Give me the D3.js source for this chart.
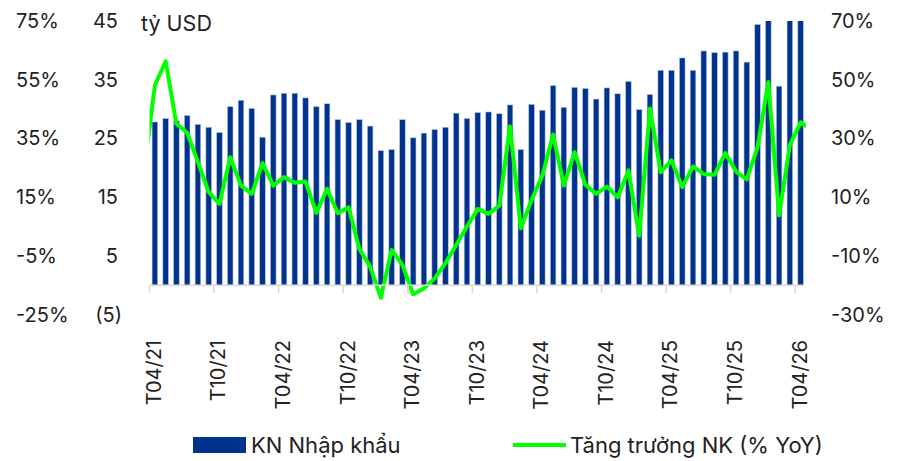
<!DOCTYPE html>
<html lang="vi">
<head>
  <meta charset="UTF-8">
  <title>KN Nhập khẩu</title>
  <script src="https://d3js.org/d3.v7.min.js"></script>
  <style>
    body { margin: 0; background: #fff; }
    text { font-family: Inter, Roboto, "Noto Sans", sans-serif; fill: #222; }
  </style>
</head>
<body>
<script>
  // months T04/21 .. T04/26
  const months = [
    "T04/21","T05/21","T06/21","T07/21","T08/21","T09/21","T10/21","T11/21","T12/21",
    "T01/22","T02/22","T03/22","T04/22","T05/22","T06/22","T07/22","T08/22","T09/22","T10/22","T11/22","T12/22",
    "T01/23","T02/23","T03/23","T04/23","T05/23","T06/23","T07/23","T08/23","T09/23","T10/23","T11/23","T12/23",
    "T01/24","T02/24","T03/24","T04/24","T05/24","T06/24","T07/24","T08/24","T09/24","T10/24","T11/24","T12/24",
    "T01/25","T02/25","T03/25","T04/25","T05/25","T06/25","T07/25","T08/25","T09/25","T10/25","T11/25","T12/25",
    "T01/26","T02/26","T03/26","T04/26"
  ];
  const tickLabels = ["T04/21","T10/21","T04/22","T10/22","T04/23","T10/23","T04/24","T10/24","T04/25","T10/25","T04/26"];

  // import value, bn USD
  const imports = [
    27.8, 28.4, 28.0, 28.9, 27.4, 26.9, 26.0, 30.4, 31.5,
    30.1, 25.2, 32.4, 32.7, 32.7, 31.9, 30.4, 30.9, 28.2, 27.7, 28.2, 27.1,
    22.9, 23.1, 28.2, 25.1, 25.9, 26.5, 26.9, 29.3, 28.4, 29.4, 29.5, 29.2,
    30.7, 23.1, 30.8, 29.8, 34.0, 30.3, 33.7, 33.5, 31.7, 33.6, 32.6, 34.7,
    29.9, 32.5, 36.6, 36.6, 38.7, 36.6, 39.9, 39.6, 39.7, 39.9, 38.0, 44.4,
    46.0, 33.9, 46.0, 46.5
  ];

  // YoY growth %, one month before and after the bar range (cut by the plot edge)
  const growthMonths = ["T03/21"].concat(months, ["T05/26"]);
  const growth = [
    19.0,
    48.1, 56.3, 35.0, 31.9, 21.9, 11.7, 7.7, 23.6, 13.9,
    11.1, 21.6, 13.9, 16.8, 14.9, 15.3, 4.6, 12.8, 4.5, 6.5, -7.7, -13.7,
    -24.3, -8.0, -13.1, -23.1, -21.1, -17.7, -12.5, -6.3, 0.0, 6.0, 4.3, 7.1,
    34.1, -0.6, 9.0, 17.3, 31.3, 13.9, 25.3, 14.2, 11.1, 13.6, 9.9, 19.1,
    -3.2, 40.2, 18.5, 22.5, 13.4, 20.4, 17.9, 17.6, 25.0, 18.7, 16.0, 27.0,
    49.2, 3.8, 27.7, 35.5,
    33.0
  ];

  const valueTicks = [-5, 5, 15, 25, 35, 45];
  const leftPctTicks = [-25, -5, 15, 35, 55, 75];
  const rightPctTicks = [-30, -10, 10, 30, 50, 70];

  const width = 905, height = 461;
  const plot = { left: 149.5, right: 806, top: 21, bottom: 314.5 };
  const fontSize = "20px";

  const svg = d3.select("body").append("svg")
    .attr("width", width)
    .attr("height", height);

  const x = d3.scaleBand()
    .domain(months)
    .range([plot.left, plot.right]);
  const step = x.step();
  const xIdx = d3.scaleLinear()
    .domain([0, months.length - 1])
    .range([plot.left + step / 2, plot.right - step / 2]);

  const y = d3.scaleLinear().domain([-5, 45]).range([plot.bottom, plot.top]);
  const yPctLeft = d3.scaleLinear().domain([-25, 75]).range([plot.bottom, plot.top]);
  const yPct = d3.scaleLinear().domain([-30, 70]).range([plot.bottom, plot.top]);

  svg.append("clipPath").attr("id", "clip")
    .append("rect")
    .attr("x", plot.left).attr("y", plot.top)
    .attr("width", plot.right - plot.left)
    .attr("height", plot.bottom - plot.top + 10);

  const g = svg.append("g").attr("clip-path", "url(#clip)");

  // bars
  g.selectAll("rect.bar")
    .data(imports)
    .enter().append("rect")
    .attr("class", "bar")
    .attr("x", (d, i) => xIdx(i) - 2.8)
    .attr("width", 5.6)
    .attr("y", d => y(d))
    .attr("height", d => y(0) - y(d))
    .attr("fill", "#00338d")
    .attr("stroke", "#b8c4de")
    .attr("stroke-width", 0.6);

  // category axis at zero
  const y0 = y(0);
  svg.append("line")
    .attr("x1", plot.left).attr("x2", plot.right - 2)
    .attr("y1", y0).attr("y2", y0)
    .attr("stroke", "#d9d9d9")
    .attr("stroke-width", 1.5);

  const tickIdx = tickLabels.map(t => months.indexOf(t));
  svg.selectAll("line.tick")
    .data(tickIdx)
    .enter().append("line")
    .attr("x1", i => xIdx(i) - step / 2)
    .attr("x2", i => xIdx(i) - step / 2)
    .attr("y1", y0).attr("y2", y0 + 8)
    .attr("stroke", "#d9d9d9")
    .attr("stroke-width", 1.5);

  svg.selectAll("text.xlab")
    .data(tickLabels)
    .enter().append("text")
    .attr("text-anchor", "end")
    .attr("dy", "0.35em")
    .attr("transform", d => "translate(" + (xIdx(months.indexOf(d)) - 1) + ",340) rotate(-90)")
    .style("font-size", fontSize)
    .text(d => d);

  // growth line
  const line = d3.line()
    .x((d, i) => xIdx(i - 1))
    .y(d => yPct(d));

  g.append("path")
    .datum(growth)
    .attr("fill", "none")
    .attr("stroke", "#00ff00")
    .attr("stroke-width", 4)
    .attr("stroke-linejoin", "round")
    .attr("d", line);

  // left axes (percent and value), right percent axis
  svg.selectAll("text.lp")
    .data(leftPctTicks)
    .enter().append("text")
    .attr("x", 16)
    .attr("y", d => yPctLeft(d))
    .attr("dy", "0.35em")
    .style("font-size", fontSize)
    .text(d => d + "%");

  svg.selectAll("text.lv")
    .data(valueTicks)
    .enter().append("text")
    .attr("x", d => d < 0 ? 122 : 118)
    .attr("y", d => y(d))
    .attr("dy", "0.35em")
    .attr("text-anchor", "end")
    .style("font-size", fontSize)
    .text(d => d < 0 ? "(" + (-d) + ")" : d);

  svg.selectAll("text.rp")
    .data(rightPctTicks)
    .enter().append("text")
    .attr("x", 831)
    .attr("y", d => yPct(d))
    .attr("dy", "0.35em")
    .style("font-size", fontSize)
    .text(d => d + "%");

  svg.append("text")
    .attr("x", 141).attr("y", 31)
    .style("font-size", "21.5px")
    .text("tỷ USD");

  // legend
  const legend = svg.append("g");
  legend.append("rect")
    .attr("x", 193).attr("y", 437)
    .attr("width", 53).attr("height", 16)
    .attr("fill", "#00338d");
  legend.append("text")
    .attr("x", 251).attr("y", 453)
    .style("font-size", "22px")
    .text("KN Nhập khẩu");
  legend.append("line")
    .attr("x1", 513).attr("x2", 566)
    .attr("y1", 445).attr("y2", 445)
    .attr("stroke", "#00ff00")
    .attr("stroke-width", 4);
  legend.append("text")
    .attr("x", 570).attr("y", 453)
    .style("font-size", "22px")
    .text("Tăng trưởng NK (% YoY)");
</script>
</body>
</html>
